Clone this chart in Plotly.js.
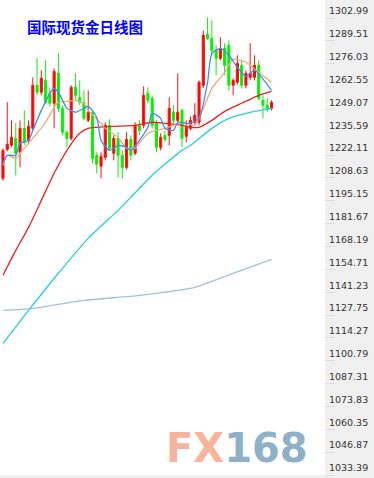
<!DOCTYPE html>
<html><head><meta charset="utf-8">
<script src="https://cdn.plot.ly/plotly-3.0.1.min.js"></script>
<style>html,body{margin:0;padding:0;background:#fff}#chart{width:374px;height:478px}</style>
</head><body><div id="chart"></div>
<script>
// Daily candles (index = trading day)
const openP  = [1208.4,1225.5,1227.9,1232.0,1223.8,1237.9,1230.8,1237.9,1263.3,1259.2,1266.2,1258.6,1252.7,1270.4,1249.7,1235.6,1232.0,1262.1,1256.2,1253.3,1242.6,1247.4,1222.0,1215.5,1220.8,1239.7,1223.2,1232.0,1222.0,1214.9,1231.4,1223.2,1239.7,1239.7,1258.6,1255.6,1240.9,1226.7,1233.8,1233.8,1247.4,1242.6,1248.5,1233.2,1237.9,1241.5,1241.5,1263.3,1293.4,1291.0,1283.9,1279.2,1285.1,1286.9,1263.3,1265.1,1275.1,1263.3,1268.0,1268.0,1275.1,1254.4,1251.5,1249.7];
const highP  = [1226.1,1253.3,1242.6,1240.9,1242.6,1248.5,1242.6,1268.0,1279.2,1272.1,1278.0,1261.5,1273.3,1282.2,1251.5,1236.7,1263.3,1270.4,1266.2,1260.3,1260.3,1248.5,1223.8,1223.8,1241.5,1243.2,1233.8,1235.6,1224.9,1235.6,1233.8,1241.5,1242.6,1262.7,1262.1,1257.4,1242.6,1235.0,1236.7,1256.2,1251.5,1270.4,1249.7,1242.6,1245.0,1252.7,1266.2,1295.7,1303.4,1301.6,1286.9,1291.6,1288.1,1289.8,1267.4,1281.0,1278.0,1272.1,1288.1,1281.0,1278.0,1257.4,1255.6,1254.4];
const lowP   = [1207.2,1224.3,1226.7,1210.2,1214.9,1227.9,1229.1,1236.7,1257.4,1257.4,1252.1,1250.9,1237.9,1247.4,1233.8,1226.7,1230.8,1254.4,1251.5,1242.6,1241.5,1217.3,1211.4,1208.4,1219.0,1224.9,1219.0,1209.0,1208.4,1213.7,1219.0,1222.0,1233.8,1237.9,1252.7,1237.9,1223.8,1224.9,1229.7,1227.9,1240.9,1241.5,1226.7,1229.7,1236.7,1240.3,1239.7,1261.5,1289.8,1281.0,1269.2,1278.0,1269.2,1260.3,1257.4,1263.9,1261.5,1261.5,1266.2,1266.2,1254.4,1243.8,1247.4,1248.5];
const closeP = [1224.9,1228.5,1232.6,1223.2,1237.9,1229.7,1239.1,1263.3,1259.2,1267.4,1253.3,1252.7,1271.5,1249.7,1235.6,1232.0,1262.1,1257.4,1253.3,1243.8,1247.4,1220.2,1216.7,1221.4,1239.7,1226.1,1232.0,1222.0,1214.9,1231.4,1222.0,1239.7,1236.7,1257.4,1254.4,1239.7,1226.7,1232.6,1231.4,1249.7,1242.6,1247.4,1232.0,1238.5,1242.6,1245.6,1265.1,1292.8,1291.0,1283.9,1279.2,1285.1,1275.1,1263.3,1266.2,1276.3,1263.3,1270.4,1270.4,1275.1,1255.6,1251.5,1249.1,1253.3];
const days = openP.map((_, i) => i);

// Moving averages, read at the given day indices
const ma5Day  = [0,1,3,4,6,7,9,11,12,13,15,16,17,19,20,22,23,25,27,29,30,32,34,35,37,38,40,41,43,44,46,48,49,51,53,55,57,59,63];
const ma5Val  = [1217.3,1222.0,1222.0,1229.1,1230.8,1236.7,1248.5,1258.6,1261.5,1259.2,1249.7,1248.5,1247.4,1249.7,1250.9,1244.4,1230.8,1224.9,1227.9,1226.7,1224.9,1230.8,1238.5,1246.8,1243.8,1237.9,1236.7,1241.5,1240.9,1240.9,1243.8,1265.1,1282.2,1285.1,1281.0,1273.9,1268.6,1272.1,1260.3];
const ma10Day = [0,1,3,4,6,8,10,12,13,15,17,19,20,23,24,27,29,31,32,34,36,38,40,42,43,45,47,49,52,54,57,60,63];
const ma10Val = [1216.1,1222.0,1220.2,1223.2,1229.1,1235.0,1241.5,1250.3,1253.3,1253.8,1254.4,1252.7,1248.5,1240.9,1237.9,1232.6,1226.1,1226.1,1229.1,1235.0,1236.7,1237.9,1239.7,1241.5,1240.9,1239.7,1249.7,1261.5,1271.0,1278.6,1276.9,1271.0,1265.1];
const maRedDay = [0,3,6,9,12,15,18,20,22,26,31,35,38,42,44,46,49,52,56,60,63];
const maRedVal = [1151.2,1165.9,1179.5,1195.4,1211.4,1224.9,1235.0,1237.9,1238.5,1239.1,1239.7,1241.5,1240.9,1239.7,1238.5,1238.5,1242.6,1247.9,1252.7,1257.4,1259.7];
const maCyanDay = [0,6,13,20,27,30,35,42,44,49,53,58,63];
const maCyanVal = [1111.0,1130.5,1152.4,1173.0,1189.5,1197.2,1210.2,1224.9,1227.9,1237.9,1243.8,1247.4,1249.7];
const maSteelDay = [0,7,19,32,45,54,63];
const maSteelVal = [1130.5,1131.7,1136.4,1139.4,1144.1,1152.4,1160.6];

const tickVals = [1302.99,1289.51,1276.03,1262.55,1249.07,1235.59,1222.11,1208.63,1195.15,1181.67,1168.19,1154.71,1141.23,1127.75,1114.27,1100.79,1087.31,1073.83,1060.35,1046.87,1033.39];
const tickText = tickVals.map(v => v.toFixed(2));

const titleText = '国际现货金日线图';

function maLine(x, y, color, w) {
  return {type:'scatter', mode:'lines', x:x, y:y, line:{color:color, width:w, shape:'spline', smoothing:0.6}, hoverinfo:'skip', showlegend:false};
}

const traces = [
  maLine(maSteelDay, maSteelVal, '#9fc2da', 1.3),
  maLine(maCyanDay, maCyanVal, '#26d0de', 1.3),
  maLine(maRedDay, maRedVal, '#f02020', 1.3),
  {type:'candlestick', x:days, open:openP, high:highP, low:lowP, close:closeP,
   increasing:{line:{color:'#ff1010', width:1}, fillcolor:'#ff0000'},
   decreasing:{line:{color:'#10ee10', width:1}, fillcolor:'#00ee00'},
   whiskerwidth:0, hoverinfo:'skip', showlegend:false},
  maLine(ma10Day, ma10Val, '#eeaa80', 1.3),
  maLine(ma5Day, ma5Val, '#3a90f0', 1.3)
];

const layout = {
  width:374, height:478,
  margin:{l:0, r:49, t:0, b:3},
  paper_bgcolor:'#f0f0f0', plot_bgcolor:'#ffffff',
  showlegend:false,
  xaxis:{range:[-0.70, 75.55], visible:false, showgrid:false, zeroline:false, rangeslider:{visible:false}, fixedrange:true},
  yaxis:{side:'right', range:[1033.39, 1313.63], tickvals:tickVals, ticktext:tickText,
         showgrid:false, zeroline:false, showline:false,
         ticks:'outside', ticklen:9, tickcolor:'#dddddd', tickwidth:1,
         ticklabelshift:-7, ticklabelstandoff:-8,
         tickfont:{family:'DejaVu Sans, Verdana, sans-serif', size:9.5, color:'#333333'}},
  annotations:[
    {xref:'paper', yref:'paper', x:25/325, y:1-26/475, xanchor:'left', yanchor:'middle', showarrow:false,
     text:'<b>'+titleText+'</b>', font:{family:'Noto Sans CJK SC, sans-serif', size:14.5, color:'#0000ff'}},
    {xref:'paper', yref:'paper', x:237/325, y:1-448/475, xanchor:'center', yanchor:'middle', showarrow:false,
     text:"<span style='color:#f5b49b'>FX</span><span style='color:#8eb0c8'>168</span>",
     font:{family:'DejaVu Sans, sans-serif', size:40, weight:'bold', color:'#8eb0c8'}}
  ]
};

Plotly.newPlot('chart', traces, layout, {staticPlot:true, displayModeBar:false});
</script></body></html>
